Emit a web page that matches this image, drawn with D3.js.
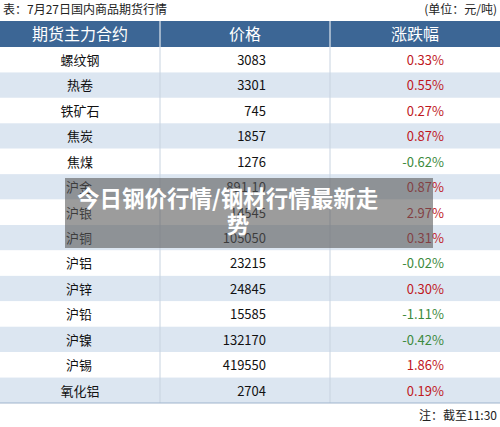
<!DOCTYPE html>
<html><head><meta charset="utf-8">
<script src="https://cdn.jsdelivr.net/npm/d3@7"></script>
<style>body{margin:0;background:#fff}svg{display:block;font-family:"Noto Sans CJK SC","Noto Sans",sans-serif}</style>
</head><body><svg id="chart" width="500" height="427"></svg>
<script>
const names = ["螺纹钢","热卷","铁矿石","焦炭","焦煤","沪金","沪银","沪铜","沪铝","沪锌","沪铅","沪镍","沪锡","氧化铝"];
const prices = ["3083","3301","745","1857","1276","891.10","14545","105050","23215","24845","15585","132170","419550","2704"];
const changes = [0.33,0.55,0.27,0.87,-0.62,0.87,2.97,0.31,-0.02,0.30,-1.11,-0.42,1.86,0.19];
const headers = ["期货主力合约","价格","涨跌幅"];
const leftAligned = ["沪金","沪银","沪铜","沪铝","沪锌","沪铅","沪镍","沪锡"];

const svg = d3.select("#chart");
const W = 500, headTop = 21, headH = 26;
const y = d3.scaleBand().domain(d3.range(names.length)).range([headTop + headH, 403]);
const cols = [0, 160, 330, 500];

svg.append("text").attr("x", 3).attr("y", 14).attr("font-size", 12).attr("fill", "#222").text("表：7月27日国内商品期货行情");
svg.append("text").attr("x", 497).attr("y", 14).attr("text-anchor", "end").attr("font-size", 12).attr("fill", "#222").text("(单位：元/吨)");

svg.append("rect").attr("x", 0).attr("y", headTop).attr("width", W).attr("height", headH).attr("fill", "#3c6695");
headers.forEach((h, i) => {
  svg.append("text").attr("x", (cols[i] + cols[i + 1]) / 2).attr("y", headTop + 19).attr("text-anchor", "middle")
    .attr("font-size", 16).attr("fill", "#fff").text(h);
  if (i > 0) svg.append("line").attr("x1", cols[i]).attr("x2", cols[i]).attr("y1", headTop).attr("y2", headTop + headH).attr("stroke", "#fff");
});

const row = svg.selectAll("g.row").data(names).join("g").attr("class", "row")
  .attr("transform", (d, i) => `translate(0,${y(i)})`);
row.append("rect").attr("width", W).attr("height", y.bandwidth()).attr("fill", (d, i) => i % 2 ? "#dce6f1" : "#fff");
row.append("text").attr("x", d => leftAligned.includes(d) ? 66 : 80).attr("text-anchor", d => leftAligned.includes(d) ? "start" : "middle")
  .attr("y", 18).attr("font-size", 13).attr("fill", "#111").text(d => d);
row.append("text").attr("x", 266).attr("text-anchor", "end").attr("y", 18).attr("font-size", 13).attr("fill", "#111").text((d, i) => prices[i]);
row.append("text").attr("x", 444).attr("text-anchor", "end").attr("y", 18).attr("font-size", 13)
  .attr("fill", (d, i) => changes[i] < 0 ? "#3d8a3d" : "#c0181e").text((d, i) => changes[i].toFixed(2) + "%");
[160, 330].forEach(x => svg.append("line").attr("x1", x).attr("x2", x).attr("y1", headTop + headH).attr("y2", 403).attr("stroke", "#c8d3e0"));
svg.append("line").attr("x1", 0).attr("x2", W).attr("y1", 403).attr("y2", 403).attr("stroke", "#9fb4cc");

svg.append("text").attr("x", 497).attr("y", 420).attr("text-anchor", "end").attr("font-size", 12).attr("fill", "#222").text("注：截至11:30");

svg.append("rect").attr("x", 65).attr("y", 178).attr("width", 368).attr("height", 70).attr("fill", "#5a5a5a").attr("opacity", 0.6);
svg.append("text").attr("x", 77).attr("y", 207).attr("font-size", 22.5).attr("font-weight", "bold").attr("fill", "#fff").text("今日钢价行情/钢材行情最新走");
svg.append("text").attr("x", 238).attr("y", 233).attr("text-anchor", "middle").attr("font-size", 22.5).attr("font-weight", "bold").attr("fill", "#fff").text("势");
</script></body></html>
